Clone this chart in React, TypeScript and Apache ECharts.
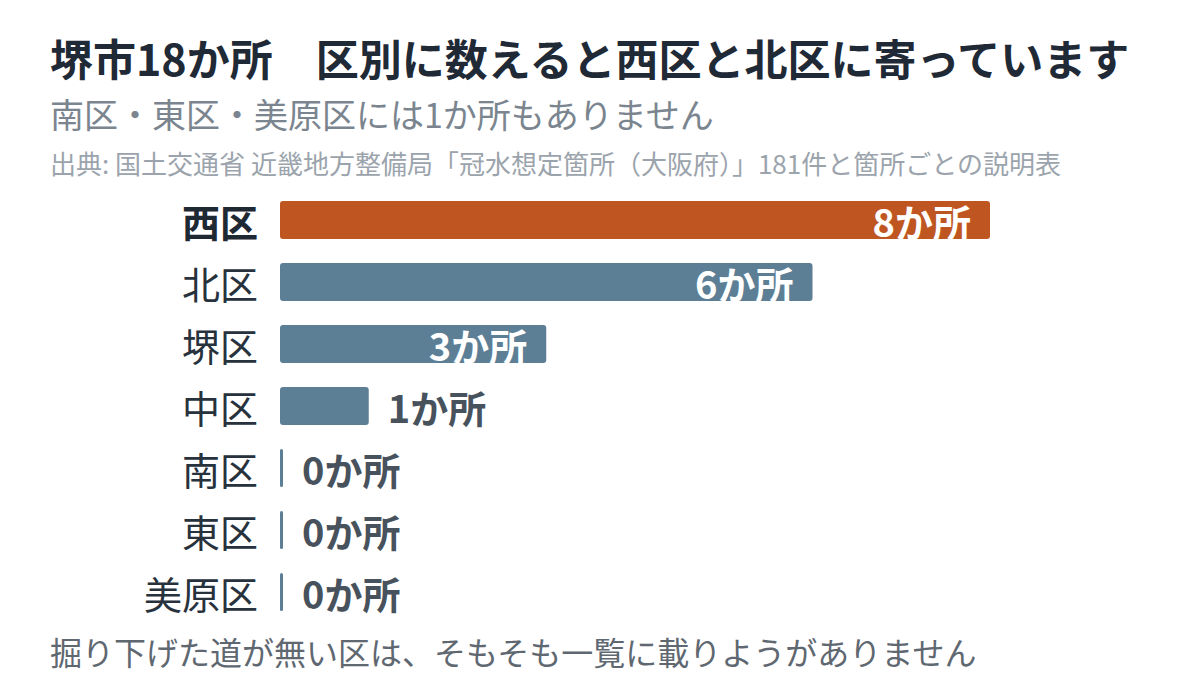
import { useEffect, useRef } from "react";
import * as echarts from "echarts";

const WARDS = ["西区", "北区", "堺区", "中区", "南区", "東区", "美原区"];
const COUNTS = [8, 6, 3, 1, 0, 0, 0];
const HIGHLIGHT = "西区";

const TITLE = "堺市18か所　区別に数えると西区と北区に寄っています";
const SUBTITLE = "南区・東区・美原区には1か所もありません";
const SOURCE = "出典: 国土交通省 近畿地方整備局「冠水想定箇所（大阪府）」181件と箇所ごとの説明表";
const FOOTNOTE = "掘り下げた道が無い区は、そもそも一覧に載りようがありません";

const FONT = "'Noto Sans CJK JP', 'Noto Sans', sans-serif";
const ORANGE = "#bf5621";
const SLATE = "#5c7f96";

function buildOption(): echarts.EChartsOption {
  const data = WARDS.map((w, i) => {
    const v = COUNTS[i];
    const inside = v >= 3;
    return {
      value: v,
      itemStyle: { color: w === HIGHLIGHT ? ORANGE : SLATE },
      label: {
        position: inside ? "insideRight" : "right",
        color: inside ? "#ffffff" : "#47525d",
      },
    };
  });

  const text = (t: string, y: number, size: number, color: string, weight = "normal") => ({
    type: "text" as const,
    left: 50,
    top: y - size * 0.72,
    style: { text: t, font: `${weight} ${size}px ${FONT}`, fill: color },
  });

  return {
    animation: false,
    backgroundColor: "#ffffff",
    grid: { left: 280, right: 210, top: 189, bottom: 77 },
    xAxis: { type: "value", min: 0, max: 8, show: false },
    yAxis: {
      type: "category",
      data: WARDS,
      inverse: true,
      axisLine: { show: false },
      axisTick: { show: false },
      axisLabel: {
        margin: 22,
        fontFamily: FONT,
        fontSize: 38,
        color: "#27323d",
        formatter: (v: string) => (v === HIGHLIGHT ? `{hl|${v}}` : v),
        rich: { hl: { fontFamily: FONT, fontSize: 38, fontWeight: "bold", color: "#1f2933" } },
      },
    },
    series: [{
      type: "bar",
      data,
      barWidth: 38,
      barMinHeight: 3,
      itemStyle: { borderRadius: 3 },
      label: {
        show: true,
        distance: 19,
        fontFamily: FONT,
        fontSize: 38,
        fontWeight: "bold",
        formatter: (p: any) => `${p.value}か所`,
      },
    }],
    graphic: [
      text(TITLE, 66, 43, "#1f2a36", "bold"),
      text(SUBTITLE, 121, 34, "#7b858f"),
      text(SOURCE, 168, 26, "#9ba4ac"),
      text(FOOTNOTE, 658, 32, "#5f6871"),
    ],
  };
}

export default function App() {
  const el = useRef<HTMLDivElement>(null);

  useEffect(() => {
    if (!el.current) return;
    const chart = echarts.init(el.current, undefined, { renderer: "svg" });
    chart.setOption(buildOption());
    return () => { chart.dispose(); };
  }, []);

  return (
    <div style={{ position: "fixed", left: 0, top: 0, width: 1200, height: 700, background: "#fff" }}>
      <div ref={el} style={{ width: 1200, height: 700 }} />
    </div>
  );
}
